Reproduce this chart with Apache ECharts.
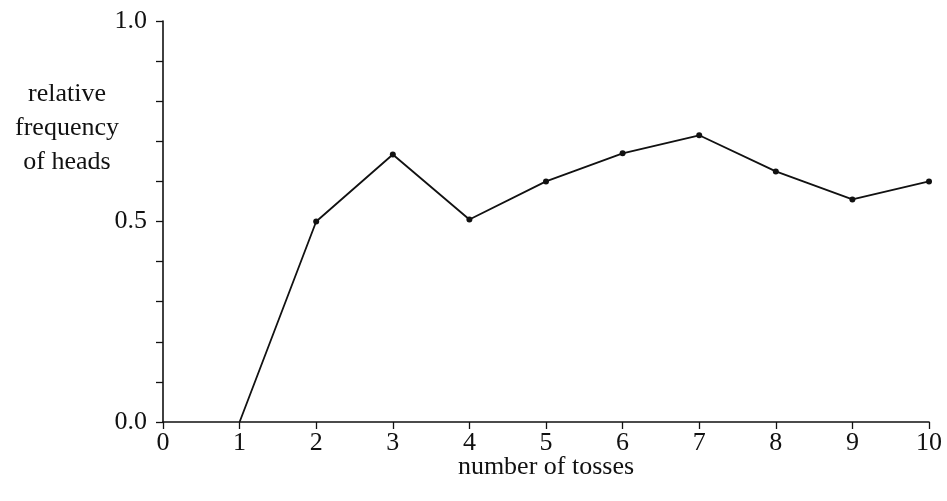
<!DOCTYPE html>
<html>
<head>
<meta charset="utf-8">
<script src="https://cdn.jsdelivr.net/npm/echarts@6/dist/echarts.min.js"></script>
<style>
  html, body { margin: 0; padding: 0; background: #fff; }
  #chart { width: 947px; height: 501px; }
</style>
</head>
<body>
<div id="chart"></div>
<script>
// number of tosses and running relative frequency of heads
const tosses = [1, 2, 3, 4, 5, 6, 7, 8, 9, 10]
const relFreq = [0, 0.5, 0.667, 0.505, 0.6, 0.67, 0.715, 0.625, 0.555, 0.6]
const yLabels = [0, 0.5, 1.0]

const font = 'Liberation Serif'

const chart = echarts.init(document.getElementById('chart'))

const points = tosses.map((t, i) => {
  const item = { value: [t, relFreq[i]] }
  // first toss sits on the axis, no dot drawn there
  if (i === 0) item.symbol = 'none'
  return item
})

chart.setOption({
  animation: false,
  backgroundColor: '#fff',
  grid: {
    left: 163,
    right: 18,
    top: 21,
    bottom: 79
  },
  graphic: [{
    type: 'text',
    left: 9,
    top: 77,
    style: {
      text: 'relative\nfrequency\nof heads',
      font: '26px "' + font + '"',
      fill: '#111',
      textAlign: 'center',
      lineHeight: 34,
      width: 116
    }
  }],
  xAxis: {
    type: 'value',
    min: 0,
    max: 10,
    interval: 1,
    name: 'number of tosses',
    nameLocation: 'middle',
    nameGap: 32,
    nameMoveOverlap: false,
    nameTextStyle: { fontFamily: font, fontSize: 26, color: '#111' },
    axisLine: { lineStyle: { color: '#111', width: 1.6 } },
    axisTick: { length: 7, lineStyle: { color: '#111', width: 1.3 } },
    axisLabel: { fontFamily: font, fontSize: 26, color: '#111', margin: 8 },
    splitLine: { show: false }
  },
  yAxis: {
    type: 'value',
    min: 0,
    max: 1,
    interval: 0.1,
    axisLine: { show: true, lineStyle: { color: '#111', width: 1.6 } },
    axisTick: { show: true, length: 7, lineStyle: { color: '#111', width: 1.3 } },
    axisLabel: {
      fontFamily: font,
      fontSize: 26,
      color: '#111',
      margin: 16,
      formatter(v) {
        const hit = yLabels.find(l => Math.abs(l - v) < 1e-6)
        return hit === undefined ? '' : hit.toFixed(1)
      }
    },
    splitLine: { show: false }
  },
  series: [{
    type: 'line',
    data: points,
    symbol: 'circle',
    symbolSize: 6,
    lineStyle: { color: '#111', width: 1.8 },
    itemStyle: { color: '#111' }
  }]
})
</script>
</body>
</html>
